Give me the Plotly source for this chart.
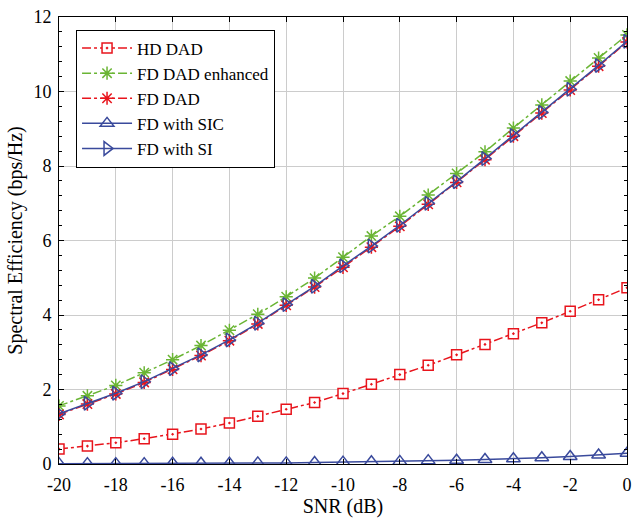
import plotly.graph_objects as go

snr = list(range(-20, 1))
x_ticks = [-20, -18, -16, -14, -12, -10, -8, -6, -4, -2, 0]
x_ticktext = ["-20", "-18", "-16", "-14", "-12", "-10", "-8", "-6", "-4", "-2", "0"]
y_ticks = [0, 2, 4, 6, 8, 10, 12]

hd_dad = [0.40, 0.48, 0.57, 0.68, 0.80, 0.94, 1.10, 1.28, 1.47, 1.65, 1.89,
          2.14, 2.40, 2.65, 2.93, 3.21, 3.50, 3.79, 4.10, 4.41, 4.73]
fd_dad_enh = [1.56, 1.83, 2.11, 2.45, 2.80, 3.18, 3.59, 4.02, 4.49, 4.99, 5.55,
              6.12, 6.65, 7.22, 7.80, 8.38, 9.02, 9.64, 10.28, 10.90, 11.52]
fd_dad = [1.33, 1.61, 1.88, 2.19, 2.54, 2.91, 3.31, 3.76, 4.26, 4.75, 5.28,
          5.82, 6.38, 6.97, 7.56, 8.17, 8.80, 9.42, 10.04, 10.68, 11.33]
fd_sic = [0.01, 0.01, 0.01, 0.01, 0.02, 0.02, 0.02, 0.03, 0.03, 0.04, 0.05,
          0.06, 0.07, 0.09, 0.10, 0.12, 0.14, 0.17, 0.20, 0.24, 0.29]
fd_si = [1.35, 1.63, 1.90, 2.21, 2.56, 2.93, 3.33, 3.78, 4.28, 4.77, 5.32,
         5.85, 6.41, 7.00, 7.58, 8.20, 8.82, 9.44, 10.06, 10.70, 11.35]

RED = "#e8141c"
GREEN = "#6ab534"
BLUE = "#3a4a9c"
FAMILY = "Liberation Serif, Times New Roman, serif"

fig = go.Figure()
fig.add_trace(go.Scatter(x=snr, y=hd_dad, name="HD DAD", mode="lines+markers",
                         line=dict(color=RED, width=1.5, dash="dashdot"),
                         marker=dict(symbol="square-dot", size=10, color="white",
                                     line=dict(color=RED, width=1.5))))
fig.add_trace(go.Scatter(x=snr, y=fd_dad_enh, name="FD DAD enhanced", mode="lines+markers",
                         line=dict(color=GREEN, width=1.5, dash="dashdot"),
                         marker=dict(symbol="asterisk-open", size=11,
                                     line=dict(color=GREEN, width=1.5))))
fig.add_trace(go.Scatter(x=snr, y=fd_dad, name="FD DAD", mode="lines+markers",
                         line=dict(color=RED, width=1.5, dash="dashdot"),
                         marker=dict(symbol="asterisk-open", size=11,
                                     line=dict(color=RED, width=1.5))))
fig.add_trace(go.Scatter(x=snr, y=fd_sic, name="FD with SIC", mode="lines+markers",
                         line=dict(color=BLUE, width=1.5),
                         marker=dict(symbol="triangle-up-open", size=12,
                                     line=dict(color=BLUE, width=1.5))))
fig.add_trace(go.Scatter(x=snr, y=fd_si, name="FD with SI", mode="lines+markers",
                         line=dict(color=BLUE, width=1.5),
                         marker=dict(symbol="triangle-right-open", size=12,
                                     line=dict(color=BLUE, width=1.5))))

font = dict(family=FAMILY, size=18, color="black")

fig.update_layout(
    width=639, height=518,
    margin=dict(l=59, r=7, t=14, b=53),
    paper_bgcolor="white", plot_bgcolor="white",
    font=font,
    showlegend=True,
    legend=dict(x=0.03, y=0.972, xanchor="left", yanchor="top",
                bgcolor="white", bordercolor="black", borderwidth=1,
                font=dict(family=FAMILY, size=17, color="black"),
                itemwidth=50, tracegroupgap=0),
    xaxis=dict(range=[-20.0001, 0.0001], tickmode="array", tickvals=x_ticks,
               ticktext=x_ticktext, showgrid=True, gridcolor="#cccccc",
               gridwidth=1, zeroline=False, showline=True, linecolor="black",
               linewidth=1, mirror="ticks", ticks="inside", ticklen=5,
               tickcolor="black", tickfont=dict(family=FAMILY, size=18),
               ticklabelstandoff=4,
               title=dict(text="SNR (dB)", standoff=2,
                          font=dict(family=FAMILY, size=20))),
    yaxis=dict(range=[0, 12.0001], tickmode="array", tickvals=y_ticks,
               showgrid=True, gridcolor="#cccccc",
               gridwidth=1, zeroline=False, showline=True, linecolor="black",
               linewidth=1, mirror="ticks", ticks="inside", ticklen=5,
               tickcolor="black", tickfont=dict(family=FAMILY, size=18),
               ticklabelstandoff=3,
               minor=dict(dtick=0.4, ticks="inside", ticklen=3, tickcolor="black",
                          showgrid=False),
               title=dict(text="Spectral Efficiency (bps/Hz)", standoff=5,
                          font=dict(family=FAMILY, size=20))),
)

fig.write_html("out.html", config={"displayModeBar": False},
               post_script="document.body.style.margin='0';document.body.style.overflow='hidden';")
